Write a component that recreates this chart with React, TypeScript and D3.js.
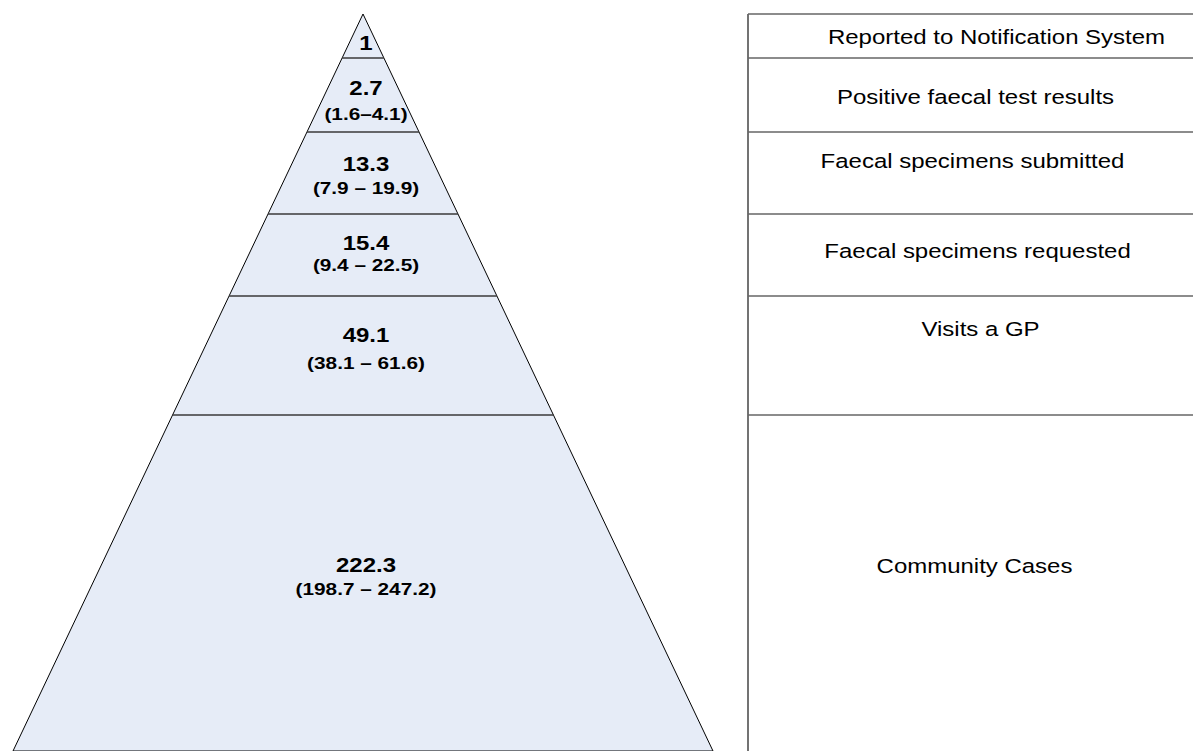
import React, { useRef, useEffect } from 'react';
import * as d3 from 'd3';

// surveillance pyramid: ratio of community cases per reported case
const stages = [
  'Reported to Notification System',
  'Positive faecal test results',
  'Faecal specimens submitted',
  'Faecal specimens requested',
  'Visits a GP',
  'Community Cases',
];
const ratios = ['1', '2.7', '13.3', '15.4', '49.1', '222.3'];
const lower = [null, '1.6', '7.9', '9.4', '38.1', '198.7'];
const upper = [null, '4.1', '19.9', '22.5', '61.6', '247.2'];

// layout (pixel band edges and text offsets)
const bandEdges = [14, 58, 132, 214, 296, 415, 751];
const numOffset = [36, 37, 39, 36, 46, 157];
const rangeGap = [0, 25, 23, 21, 27, 23];
const labelOffset = [30, 46, 36, 44, 40, 158];
const labelDx = [21, 0, -3, 2, 5, -1];

function App() {
  const ref = useRef(null);

  useEffect(() => {
    const svg = d3.select(ref.current);
    svg.selectAll('*').remove();

    const W = 1193;
    const H = 751;
    const apexX = 363;
    const apexY = bandEdges[0];
    const textX = 366;

    // half width of the pyramid at a given y
    const halfW = d3.scaleLinear().domain([apexY, H]).range([0, 350]);

    const pts: [number, number][] = [
      [apexX, apexY],
      [apexX + halfW(H), H],
      [apexX - halfW(H), H],
    ];
    svg
      .append('polygon')
      .attr('points', pts.map((p) => p.join(',')).join(' '))
      .attr('fill', '#e6ecf7')
      .attr('stroke', '#000')
      .attr('stroke-width', 1);

    // band dividers inside pyramid
    svg
      .selectAll('line.div')
      .data(bandEdges.slice(1, -1))
      .enter()
      .append('line')
      .attr('class', 'div')
      .attr('x1', (y) => apexX - halfW(y))
      .attr('x2', (y) => apexX + halfW(y))
      .attr('y1', (y) => y)
      .attr('y2', (y) => y)
      .attr('stroke', '#3a3a3a')
      .attr('stroke-width', 1.4);

    const font = 'Liberation Sans, Arial, sans-serif';

    // ratio numbers
    ratios.forEach((r, i) => {
      const y = bandEdges[i] + numOffset[i];
      svg
        .append('text')
        .attr('transform', `translate(${textX},${y}) scale(1.23,1)`)
        .attr('text-anchor', 'middle')
        .attr('font-family', font)
        .attr('font-weight', 'bold')
        .attr('font-size', 19.5)
        .attr('fill', '#000')
        .text(r);
      if (lower[i] != null) {
        const sep = i === 1 ? '\u2013' : ' \u2013 ';
        svg
          .append('text')
          .attr('transform', `translate(${textX},${y + rangeGap[i]}) scale(1.26,1)`)
          .attr('text-anchor', 'middle')
          .attr('font-family', font)
          .attr('font-weight', 'bold')
          .attr('font-size', 16.5)
          .attr('fill', '#000')
          .text(`(${lower[i]}${sep}${upper[i]})`);
      }
    });

    // right-hand table
    const tableX = 748;
    svg
      .append('line')
      .attr('x1', tableX)
      .attr('x2', tableX)
      .attr('y1', bandEdges[0])
      .attr('y2', H)
      .attr('stroke', '#444')
      .attr('stroke-width', 1.5);

    svg
      .selectAll('line.row')
      .data(bandEdges.slice(0, -1))
      .enter()
      .append('line')
      .attr('class', 'row')
      .attr('x1', tableX)
      .attr('x2', W)
      .attr('y1', (y) => y)
      .attr('y2', (y) => y)
      .attr('stroke', '#666')
      .attr('stroke-width', 1.5);

    const labelX = (tableX + W) / 2 + 5;
    stages.forEach((s, i) => {
      svg
        .append('text')
        .attr(
          'transform',
          `translate(${labelX + labelDx[i]},${bandEdges[i] + labelOffset[i]}) scale(1.17,1)`
        )
        .attr('text-anchor', 'middle')
        .attr('font-family', font)
        .attr('font-size', 20.5)
        .attr('fill', '#000')
        .text(s);
    });
  }, []);

  return (
    <div style={{ position: 'fixed', left: 0, top: 0, background: '#fff' }}>
      <svg ref={ref} width={1193} height={751} style={{ display: 'block' }}></svg>
    </div>
  );
}

export default App;
